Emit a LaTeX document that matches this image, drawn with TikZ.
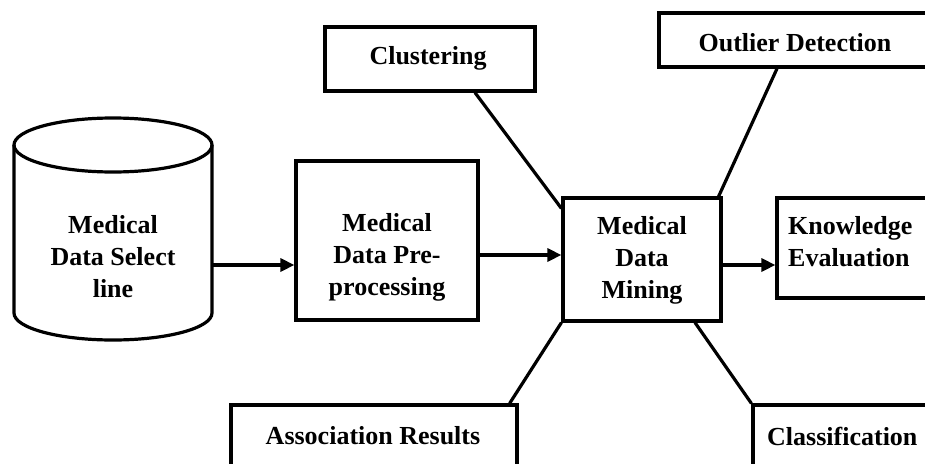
\documentclass[tikz,border=0pt]{standalone}
\usepackage{fontspec}
\setmainfont{Liberation Serif}
\usepackage{tikz}
\usetikzlibrary{arrows.meta}

\tikzset{
  box/.style={draw, line width=3.2pt, rectangle, inner sep=0pt},
  lbl/.style={font=\bfseries\fontsize{26}{32}\selectfont, align=center, inner sep=0pt},
  link/.style={line width=3.2pt},
  arr/.style={line width=3.2pt, -{Triangle[length=14pt,width=13pt]}}
}

\begin{document}
\begin{tikzpicture}[x=1pt, y=-1pt]

  \useasboundingbox (0,0) rectangle (925,463);

  %data store
  \def\rx{99}
  \def\ry{27}
  \draw[link] (14,145) -- (14,313) arc[start angle=180, end angle=0, x radius=\rx, y radius=\ry] -- (212,145);
  \draw[link] (113,145) ellipse [x radius=\rx, y radius=\ry];
  \node[inner sep=0pt, minimum width=198pt, minimum height=222pt] (data) at (113,229) {};

  %boxes
  \foreach \x/\y/\w/\h/\name in {387/240.5/182/159/pre, 642/259.5/158/123/mine, 860/248/166/100/know,
                                 795/40/272/54/outl, 430/59/210/64/clus, 374/440/286/70/assoc, 842/440/178/70/class}{
      \node[box, minimum width=\w pt, minimum height=\h pt] (\name) at (\x,\y) {};
  }

  %labels
  \foreach \x/\y/\txt/\name in {113/257/{Medical\\Data Select\\line}/datalbl, 387/257/{Medical\\Data Pre-\\processing}/prelbl,
                                 642/260/{Medical\\Data\\Mining}/minelbl, 795/43/{Outlier Detection}/outllbl,
                                 428/58/{Clustering}/cluslbl, 373/436/{Association Results}/assoclbl}{
      \node[lbl] (\name) at (\x,\y) {\txt};
  }
  \node[lbl, align=left, anchor=west] (knowlbl) at (788,242) {Knowledge\\Evaluation};
  \node[lbl, anchor=west] (classlbl) at (767,436) {Classification};

  %flow
  \draw[arr] ([yshift=-36pt]data.east) -- ([yshift=-36pt]data.east -| pre.west);
  \draw[arr] ([yshift=-14.5pt]pre.east) -- ([yshift=-14.5pt]pre.east -| mine.west);
  \draw[arr] ([yshift=-5.5pt]mine.east) -- ([yshift=-5.5pt]mine.east -| know.west);

  %results
  \draw[link] ([xshift=45pt]clus.south) -- ([yshift=-12pt]mine.north west);
  \draw[link] ([xshift=-18pt]outl.south) -- ([xshift=-4pt]mine.north east);
  \draw[link] (mine.south west) -- ([xshift=-9pt]assoc.north east);
  \draw[link] ([xshift=53pt]mine.south) -- (class.north west);

\end{tikzpicture}
\end{document}
